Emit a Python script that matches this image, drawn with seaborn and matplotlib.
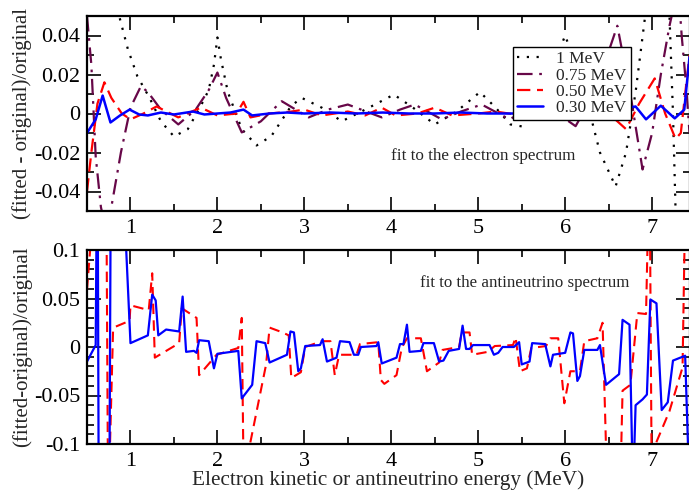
import numpy as np
import pandas as pd
import matplotlib
matplotlib.use("Agg")
import matplotlib.pyplot as plt
from matplotlib.ticker import MultipleLocator
import seaborn as sns

# ---------------- data ----------------
x_1mev = [0.5, 0.6, 0.7, 0.8, 0.87, 0.97, 1.08, 1.22, 1.35, 1.5, 1.66, 1.81, 1.9, 1.96, 2.0, 2.04,
          2.12, 2.28, 2.45, 2.62, 2.85, 2.97, 3.2, 3.43, 3.7, 4.03, 4.25, 4.5, 4.75, 5.02, 5.2,
          5.37, 5.5, 5.75, 6.0, 6.2, 6.4, 6.58, 6.7, 6.81, 6.92, 7.05, 7.2, 7.24, 7.27, 7.35, 7.43]
y_1mev = [0.2, 0.15, 0.1, 0.07, 0.05, 0.033, 0.019, 0.008, -0.004, -0.0118, -0.008, 0.004, 0.012,
          0.025, 0.039, 0.028, 0.011, -0.008, -0.0164, -0.0116, 0.004, 0.008, 0.003, -0.004, 0.002,
          0.0097, 0.003, -0.0056, 0.001, 0.011, 0.003, -0.0056, -0.0066, 0.012, 0.04, 0.015,
          -0.02, -0.0374, -0.02, 0.011, 0.05, 0.07, 0.05, 0.0, -0.05, -0.08, -0.09]

x_075 = [0.5, 0.55, 0.6, 0.66, 0.72, 0.78, 0.89, 1.0, 1.12, 1.2, 1.35, 1.55, 1.75, 1.9, 2.0, 2.1,
         2.28, 2.5, 2.74, 3.05, 3.27, 3.5, 3.89, 4.1, 4.27, 4.58, 4.8, 5.04, 5.36, 5.6, 5.85,
         6.12, 6.35, 6.6, 6.75, 6.89, 7.0, 7.1, 7.2, 7.3, 7.34, 7.39, 7.43]
y_075 = [0.05, 0.025, -0.022, -0.048, -0.06, -0.048, -0.02, 0.003, 0.014, 0.011, 0.002, -0.0056,
         0.002, 0.012, 0.021, 0.008, -0.0097, -0.004, 0.0063, -0.002, 0.002, 0.0046, -0.002, 0.002,
         0.0046, -0.003, 0.001, 0.0046, -0.003, 0.003, 0.002, -0.0065, 0.012, 0.045, 0.01, -0.0287,
         -0.01, 0.02, 0.045, 0.065, 0.04, 0.015, -0.01]

x_050 = [0.5, 0.55, 0.62, 0.7, 0.78, 0.9, 1.0, 1.15, 1.3, 1.55, 1.81, 2.0, 2.22, 2.3, 2.38, 2.6,
         2.85, 3.0, 3.2, 3.5, 3.7, 3.89, 4.05, 4.3, 4.5, 4.7, 5.0, 5.2, 5.5, 5.8, 6.1, 6.4, 6.55,
         6.7, 6.85, 7.03, 7.15, 7.27, 7.33, 7.43]
y_050 = [-0.04, -0.02, 0.005, 0.016, 0.008, 0.0, -0.003, 0.0, 0.0036, -0.002, 0.003, -0.001, 0.0,
         0.006, -0.002, 0.0, 0.001, 0.002, -0.001, 0.001, -0.001, 0.003, -0.001, 0.0, 0.003,
         -0.001, 0.0, 0.001, -0.001, 0.001, 0.0, 0.0, -0.002, -0.008, 0.005, 0.018, 0.0, -0.013,
         -0.01, 0.03]

x_030 = [0.5, 0.6, 0.68, 0.77, 0.88, 0.99, 1.1, 1.2, 1.35, 1.5, 1.72, 1.85, 2.0, 2.15, 2.3, 2.4,
         2.6, 2.8, 3.0, 3.3, 3.6, 3.9, 4.2, 4.5, 4.8, 5.1, 5.4, 5.7, 6.0, 6.3, 6.6, 6.81, 6.93,
         7.1, 7.26, 7.37, 7.43]
y_030 = [-0.01, -0.003, 0.0092, -0.0046, -0.001, 0.002, -0.0005, -0.001, 0.0005, -0.0005, 0.001,
         -0.0005, 0.0, 0.0005, 0.002, -0.001, 0.0, 0.0005, 0.0, 0.0005, 0.0, 0.0005, 0.0, 0.0,
         0.0005, 0.0, 0.0, 0.0005, 0.0, 0.001, 0.002, 0.0036, -0.003, 0.004, -0.0025, 0.002, 0.029]

xb_030 = [0.5, 0.6, 0.62, 0.64, 0.75, 0.78, 0.9, 1.0, 1.2, 1.25, 1.29, 1.32, 1.41, 1.56, 1.6, 1.64,
          1.73, 1.76, 1.79, 1.9, 1.96, 2.0, 2.24, 2.28, 2.4, 2.45, 2.55, 2.6, 2.8, 2.84, 2.88,
          2.93, 2.96, 3.01, 3.18, 3.21, 3.26, 3.37, 3.41, 3.52, 3.57, 3.62, 3.65, 3.83, 3.85,
          3.89, 4.06, 4.1, 4.14, 4.18, 4.21, 4.34, 4.37, 4.49, 4.55, 4.6, 4.66, 4.78, 4.82, 4.86,
          4.9, 4.94, 5.13, 5.18, 5.23, 5.28, 5.41, 5.47, 5.5, 5.59, 5.62, 5.77, 5.83, 5.86, 6.0,
          6.06, 6.09, 6.14, 6.17, 6.22, 6.37, 6.4, 6.47, 6.62, 6.66, 6.74, 6.78, 6.81, 6.89, 6.94,
          6.98, 7.05, 7.11, 7.18, 7.24, 7.38, 7.43]
yb_030 = [-0.015, 0.002, 0.25, -0.3, -0.3, 0.3, 0.2, 0.004, 0.012, 0.054, 0.048, 0.012, 0.018,
          0.016, 0.052, -0.005, -0.004, -0.006, 0.007, 0.006, -0.022, -0.007, -0.004, -0.053,
          -0.039, 0.006, 0.004, -0.016, -0.008, 0.016, 0.015, -0.025, -0.022, 0.001, 0.002, 0.008,
          -0.015, -0.011, 0.006, 0.005, -0.008, -0.008, 0.0, 0.001, 0.005, -0.017, -0.011, 0.003,
          0.003, 0.023, -0.005, -0.004, 0.004, 0.004, -0.015, -0.014, -0.004, -0.002, 0.022,
          -0.002, -0.002, 0.002, 0.002, -0.008, -0.006, 0.0, 0.0, 0.005, -0.018, -0.015, 0.004,
          0.003, -0.02, -0.008, -0.006, 0.015, 0.014, -0.035, -0.03, -0.003, -0.003, 0.002, -0.039,
          -0.028, 0.028, 0.023, -0.15, -0.06, -0.054, -0.049, 0.049, 0.045, -0.065, -0.057, -0.014,
          -0.009, -0.15]

xb_050 = [0.5, 0.58, 0.65, 0.72, 0.745, 0.75, 0.8, 0.83, 0.99, 1.0, 1.21, 1.25, 1.28, 1.56, 1.59,
          1.76, 1.79, 1.99, 2.24, 2.28, 2.31, 2.33, 2.56, 2.6, 2.75, 2.82, 2.85, 2.96, 3.01, 3.2,
          3.3, 3.35, 3.4, 3.6, 3.64, 3.85, 3.88, 3.92, 4.06, 4.12, 4.18, 4.34, 4.41, 4.55, 4.59,
          4.78, 4.81, 4.9, 4.93, 5.11, 5.19, 5.4, 5.43, 5.48, 5.56, 5.61, 5.78, 5.83, 5.92, 5.99,
          6.06, 6.17, 6.22, 6.37, 6.43, 6.5, 6.62, 6.66, 6.75, 6.83, 6.93, 6.97, 7.0, 7.04, 7.2,
          7.35, 7.39, 7.43]
yb_050 = [0.059, 0.15, 0.3, 0.2, -0.2, -0.15, 0.018, 0.021, 0.027, 0.043, 0.038, 0.076, -0.011,
          0.004, 0.04, 0.03, -0.029, -0.008, -0.001, 0.03, -0.2, -0.12, -0.018, 0.02, 0.015, 0.012,
          -0.032, -0.026, 0.0, 0.006, 0.006, -0.029, -0.008, -0.008, 0.003, 0.005, -0.034, -0.038,
          -0.029, -0.001, 0.009, 0.009, -0.025, -0.016, -0.003, 0.0, 0.015, 0.015, -0.008, -0.005,
          0.001, 0.002, 0.01, -0.025, -0.022, -0.001, 0.001, 0.009, 0.009, -0.058, -0.025, -0.025,
          0.006, 0.009, 0.025, -0.2, -0.2, -0.045, -0.039, 0.035, 0.034, 0.2, -0.2, -0.1, -0.066,
          -0.021, 0.2, 0.3]

labels_top = ["1 MeV", "0.75 MeV", "0.50 MeV", "0.30 MeV"]
xlabel = "Electron kinetic or antineutrino energy (MeV)"
ylabel_top = "(fitted - original)/original"
ylabel_bot = "(fitted-original)/original"
note_top = "fit to the electron spectrum"
note_bot = "fit to the antineutrino spectrum"

# ---------------- style ----------------
sns.set_theme(style="ticks")
plt.rcParams["font.family"] = ["Liberation Serif", "DejaVu Serif"]

BLACK = "#000000"
MAROON = "#670748"
RED = "#FF0000"
BLUE = "#0000FF"

fig = plt.figure(figsize=(6.89, 4.91), dpi=100)
L, R = 87 / 689, 689.5 / 689
ax1 = fig.add_axes([L, 1 - 211 / 491, R - L, 195 / 491])
ax2 = fig.add_axes([L, 1 - 444 / 491, R - L, 194 / 491])

def draw(ax, xs, ys, color, ls, lw, label=None):
    df = pd.DataFrame({"x": xs, "y": ys})
    sns.lineplot(data=df, x="x", y="y", ax=ax, color=color, linestyle=ls, linewidth=lw,
                 sort=False, estimator=None, label=label, legend=False)

draw(ax1, x_1mev, y_1mev, BLACK, (0, (1, 3.4)), 1.6, labels_top[0])
draw(ax1, x_075, y_075, MAROON, (0, (7, 3, 1.2, 3)), 1.6, labels_top[1])
draw(ax1, x_050, y_050, RED, (0, (6, 3)), 1.6, labels_top[2])
draw(ax1, x_030, y_030, BLUE, "-", 1.8, labels_top[3])

draw(ax2, xb_050, yb_050, RED, (0, (5, 3)), 1.5)
draw(ax2, xb_030, yb_030, BLUE, "-", 1.6)

for ax in (ax1, ax2):
    ax.set_xlim(0.5, 7.43)
    ax.xaxis.set_major_locator(MultipleLocator(1))
    ax.xaxis.set_minor_locator(MultipleLocator(0.5))
    ax.tick_params(which="both", direction="in", top=True, right=True, labelsize=16,
                   width=1.2, color="black", labelcolor="black")
    ax.tick_params(axis="x", which="both", pad=6)
    ax.tick_params(axis="y", which="both", pad=5)
    ax.tick_params(which="major", length=10)
    ax.tick_params(which="minor", length=5)
    for s in ax.spines.values():
        s.set_linewidth(1.6)
        s.set_color("black")
        s.set_visible(True)
    ax.set_facecolor("white")

ax1.set_ylim(-0.05, 0.05)
ax1.set_yticks([-0.04, -0.02, 0, 0.02, 0.04])
ax1.set_yticklabels(["-0.04", "-0.02", "0", "0.02", "0.04"])
ax1.yaxis.set_minor_locator(MultipleLocator(0.01))
ax1.set_xlabel("")
ax1.set_ylabel(ylabel_top, fontsize=15)

ax2.set_ylim(-0.1, 0.1)
ax2.set_yticks([-0.1, -0.05, 0, 0.05, 0.1])
ax2.set_yticklabels(["-0.1", "-0.05", "0", "0.05", "0.1"])
ax2.yaxis.set_minor_locator(MultipleLocator(0.01))
ax2.set_xlabel(xlabel, fontsize=15.3)
ax2.set_ylabel(ylabel_bot, fontsize=15)

for ax in (ax1, ax2):
    ax.yaxis.label.set_va("center")
    ax.yaxis.set_label_coords(-0.107, 0.5)
ax2.xaxis.label.set_va("center")
ax2.xaxis.set_label_coords((388 - 87) / 602.5, (444 - 480) / 194)

ax1.text(4.0, -0.022, note_top, fontsize=12.3, ha="left", va="center")
ax2.text(4.33, 0.066, note_bot, fontsize=12.2, ha="left", va="center")

leg = ax1.legend(loc="upper left", bbox_to_anchor=(0.707, 0.841), fontsize=12.5,
                 frameon=True, fancybox=False, handlelength=1.5, borderpad=0.25,
                 labelspacing=0.0, handletextpad=0.75, borderaxespad=0)
leg.get_frame().set_edgecolor("black")
leg.get_frame().set_linewidth(1.0)
leg.get_frame().set_alpha(1)

fig.savefig("out.png", dpi=100)
